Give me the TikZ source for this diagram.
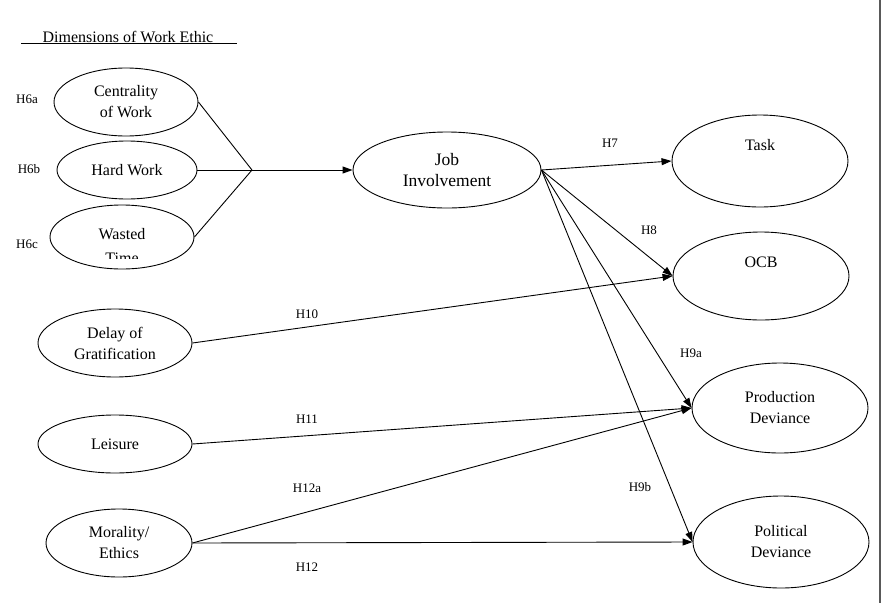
\documentclass[tikz,border=0pt]{standalone}
\usepackage{fontspec}
\setmainfont{Liberation Serif}
\usetikzlibrary{shapes.geometric,arrows.meta}
\begin{document}
\begin{tikzpicture}[x=1pt,y=-1pt,
  line width=0.9pt,
  ell/.style={draw,ellipse,inner sep=0pt,align=center,font=\fontsize{16}{21}\selectfont},
  hyp/.style={font=\fontsize{13}{15}\selectfont},
  arr/.style={-{Triangle[length=10pt,width=7pt]}},
  ]
\useasboundingbox (0,0) rectangle (887,603);
\draw[gray!70!black,line width=1.3pt] (880,0) -- (880,603);
% title
\node[font=\fontsize{16}{20}\selectfont] (title) at (128,37) {Dimensions of Work Ethic};
\coordinate (ulA) at (21,43);
\coordinate (ulB) at (237,43);
\draw[line width=0.8pt] (ulA) -- (ulB);
% left ellipses
\node[ell,minimum width=144pt,minimum height=68pt] (cent) at (126,102) {Centrality\\of Work};
\node[ell,minimum width=140pt,minimum height=58pt] (hard) at (127,170) {Hard Work};
\node[ell,minimum width=144pt,minimum height=64pt] (wasted) at (122,237) {};
\begin{scope}
\clip (40,200) rectangle (210,258);
\node[ell,draw=none,minimum width=10pt,minimum height=10pt,font=\fontsize{16}{24}\selectfont] (wastedtxt) at (122,246) {Wasted\\Time};
\end{scope}
\node[hyp] (h6a) at (27,99) {H6a};
\node[hyp] (h6b) at (29,169) {H6b};
\node[hyp] (h6c) at (27,244) {H6c};
\node[ell,minimum width=154pt,minimum height=68pt] (delay) at (115,343) {Delay of\\Gratification};
\node[ell,minimum width=154pt,minimum height=58pt] (leis) at (115,444) {Leisure};
\node[ell,minimum width=146pt,minimum height=68pt] (moral) at (119,543) {Morality/\\Ethics};
% job
\node[ell,minimum width=188pt,minimum height=76pt,font=\fontsize{17.5}{21}\selectfont] (job) at (447,170) {Job\\Involvement};
% right ellipses
\node[ell,minimum width=176pt,minimum height=92pt] (task) at (760,161) {};
\node[ell,draw=none,minimum width=10pt,minimum height=10pt] (tasktxt) at (760,145) {Task};
\node[ell,minimum width=176pt,minimum height=88pt] (ocb) at (761,276) {OCB\\[6pt]};
\node[ell,minimum width=176pt,minimum height=90pt] (prod) at (780,408) {Production\\Deviance};
\node[ell,minimum width=176pt,minimum height=92pt] (pol) at (781,542) {Political\\Deviance};
% junction
\coordinate (jn) at (252,170);
\draw (cent.east) -- (jn);
\draw (hard.east) -- (jn);
\draw (wasted.east) -- (jn);
\draw[arr] (jn) -- (job.west);
% job arrows
\draw[arr] (job.east) -- (task.west);
\draw[arr] (job.east) -- (ocb.west);
\draw[arr] (job.east) -- (prod.west);
\draw[arr] (job.east) -- (pol.west);
% left arrows
\draw[arr] (delay.east) -- (ocb.west);
\draw[arr] (leis.east) -- (prod.west);
\draw[arr] (moral.east) -- (prod.west);
\draw[arr] (moral.east) -- (pol.west);
% labels
\node[hyp] (h7) at (610,143) {H7};
\node[hyp] (h8) at (649,230) {H8};
\node[hyp] (h9a) at (691,353) {H9a};
\node[hyp] (h9b) at (640,487) {H9b};
\node[hyp] (h10) at (307,314) {H10};
\node[hyp] (h11) at (307,419) {H11};
\node[hyp] (h12a) at (307,488) {H12a};
\node[hyp] (h12) at (307,567) {H12};
\end{tikzpicture}
\end{document}
